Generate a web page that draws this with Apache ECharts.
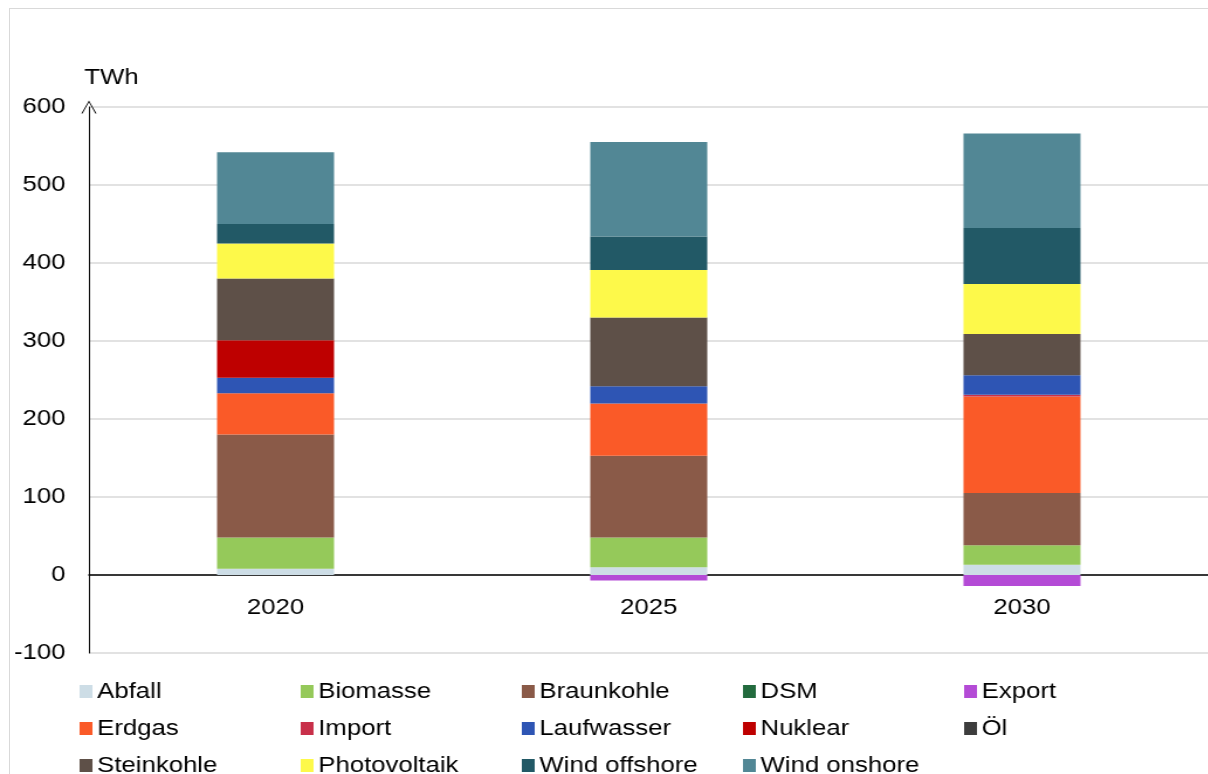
<!DOCTYPE html>
<html><head><meta charset="utf-8">
<script src="https://cdn.jsdelivr.net/npm/echarts@6/dist/echarts.min.js"></script>
<style>
html,body{margin:0;padding:0;background:#fff;overflow:hidden;}
#c{position:absolute;left:0;top:0;width:1033px;height:774px;transform:scaleX(1.17);transform-origin:0 0;}
#frame{position:absolute;left:9px;top:8px;width:1220px;height:800px;border-left:1px solid #d9d9d9;border-top:1px solid #d9d9d9;pointer-events:none;}
</style></head>
<body><div id="c"></div><div id="frame"></div>
<script>
const categories = ['2020','2025','2030'];
const yTicks = [-100,0,100,200,300,400,500,600];
const Abfall = [8,10,13];
const Biomasse = [40,38,25];
const Braunkohle = [132,105,67];
const DSM = [0,0,0];
const Export = [0,-7,-14];
const Erdgas = [53,67,124];
const Import = [0,0,2];
const Laufwasser = [20,22,25];
const Nuklear = [48,0,0];
const Oel = [0,0,0];
const Steinkohle = [79,88,53];
const Photovoltaik = [45,61,64];
const WindOffshore = [25,43,72];
const WindOnshore = [92,121,121];

const seriesDefs = [
  ['Abfall', Abfall, '#cddde6'],
  ['Biomasse', Biomasse, '#95c95a'],
  ['Braunkohle', Braunkohle, '#8a5a48'],
  ['DSM', DSM, '#236b3e'],
  ['Export', Export, '#b44bd6'],
  ['Erdgas', Erdgas, '#fa5a28'],
  ['Import', Import, '#c8304a'],
  ['Laufwasser', Laufwasser, '#2e55b4'],
  ['Nuklear', Nuklear, '#be0000'],
  ['Öl', Oel, '#3d3d3d'],
  ['Steinkohle', Steinkohle, '#5e5048'],
  ['Photovoltaik', Photovoltaik, '#fdf94a'],
  ['Wind offshore', WindOffshore, '#225966'],
  ['Wind onshore', WindOnshore, '#528795']
];

const chart = echarts.init(document.getElementById('c'));
const font = 'Liberation Sans, Arial, sans-serif';
chart.setOption({
  animation: false,
  grid: {left: 76, right: -2, top: 107, bottom: 121, containLabel: false},
  legend: {
    left: 63, top: 673, width: 1000,
    itemWidth: 11, itemHeight: 13, itemGap: 10,
    icon: 'rect',
    textStyle: {fontFamily: font, fontSize: 22, color: '#000', width: 164, lineHeight: 27, padding: [0,0,0,-1]},
    data: seriesDefs.map(d => d[0])
  },
  xAxis: {
    type: 'category', data: categories,
    axisLine: {onZero: true, lineStyle: {color: '#000', width: 1.5}},
    axisTick: {show: false},
    axisLabel: {fontFamily: font, fontSize: 22, color: '#000', margin: -56}
  },
  yAxis: {
    type: 'value', min: -100, max: 600, interval: 100,
    name: 'TWh', nameLocation: 'end', nameGap: 18,
    nameTextStyle: {fontFamily: font, fontSize: 22, color: '#000', align: 'left', padding: [0,0,0,-4]},
    axisLine: {show: true, lineStyle: {color: '#000', width: 1}, symbol: ['none', 'path://M0,10 L5,0 L10,10 L9.2,10 L5,1.4 L0.8,10 Z'], symbolSize: [16, 13], symbolOffset: [0, 0]},
    axisTick: {show: false},
    axisLabel: {fontFamily: font, fontSize: 22, color: '#000', margin: 20},
    splitLine: {lineStyle: {color: '#d9d9d9', width: 1.5}}
  },
  series: seriesDefs.map(d => ({
    name: d[0], type: 'bar', stack: 'total', data: d[1], barWidth: 100,
    itemStyle: {color: d[2]}, emphasis: {disabled: true}
  }))
});
</script></body></html>
